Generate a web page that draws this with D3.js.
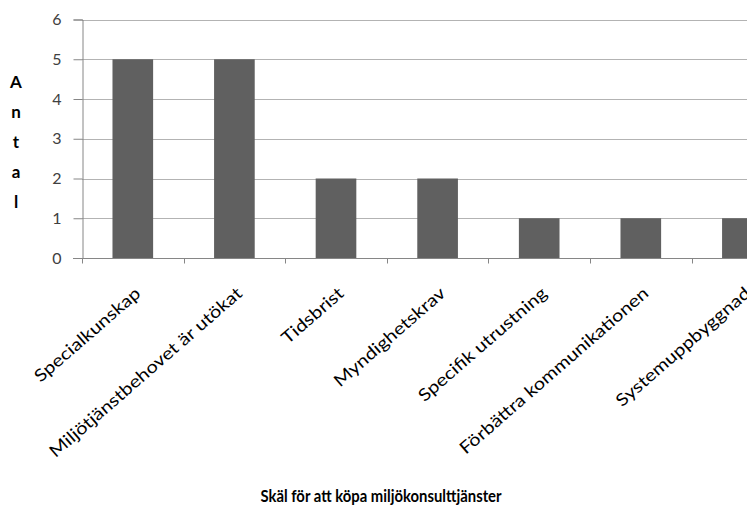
<!DOCTYPE html>
<html>
<head>
<meta charset="utf-8">
<script src="https://cdn.jsdelivr.net/npm/d3@7"></script>
<style>
  html, body { margin: 0; padding: 0; background: #fff; }
  svg { display: block; font-family: Lato, "Open Sans", sans-serif; }
</style>
</head>
<body>
<svg id="chart" width="747" height="506"></svg>
<script>
// Reasons for buying environmental consulting services
const categories = [
  "Specialkunskap",
  "Miljötjänstbehovet är utökat",
  "Tidsbrist",
  "Myndighetskrav",
  "Specifik utrustning",
  "Förbättra kommunikationen",
  "Systemuppbyggnad"
];
const counts = [5, 5, 2, 2, 1, 1, 1];
const yTicks = [0, 1, 2, 3, 4, 5, 6];
const yTitle = "Antal";
const xTitle = "Skäl för att köpa miljökonsulttjänster";

const svg = d3.select("#chart");
const plotLeft = 82, plotTop = 19.5, plotBottom = 258, bandW = 101.6;
const plotRight = plotLeft + bandW * categories.length;

const x = d3.scaleBand().domain(categories).range([plotLeft, plotRight]).paddingInner(0).paddingOuter(0);
const y = d3.scaleLinear().domain([0, 6]).range([plotBottom, plotTop]);

// horizontal gridlines
svg.append("g")
  .selectAll("line")
  .data(yTicks.filter(d => d > 0))
  .join("line")
  .attr("x1", plotLeft).attr("x2", plotRight)
  .attr("y1", d => Math.round(y(d)) + 0.5).attr("y2", d => Math.round(y(d)) + 0.5)
  .attr("stroke", "#b3b3b3").attr("stroke-width", 1);

// bars: 40% of each category slot, centred
svg.append("g")
  .selectAll("rect")
  .data(categories.map((c, i) => ({ c, v: counts[i] })))
  .join("rect")
  .attr("x", d => x(d.c) + x.bandwidth() * 0.3)
  .attr("width", x.bandwidth() * 0.4)
  .attr("y", d => y(d.v))
  .attr("height", d => y(0) - y(d.v))
  .attr("fill", "#606060");

// y axis
const yAxis = svg.append("g")
  .attr("transform", `translate(${plotLeft + 0.5},0)`)
  .call(d3.axisLeft(y).tickValues(yTicks).tickSize(9).tickPadding(12).tickFormat(d3.format("d")));
yAxis.select(".domain").attr("stroke", "#868686");
yAxis.selectAll(".tick line").attr("stroke", "#868686");
yAxis.selectAll(".tick text")
  .attr("fill", "#404040")
  .style("font-size", "16px")
  .style("font-family", "Lato, sans-serif");

// x axis with tick marks at slot boundaries
const xAxis = svg.append("g").attr("transform", `translate(0,${Math.round(plotBottom) + 0.5})`);
xAxis.append("line")
  .attr("x1", plotLeft - 9).attr("x2", plotRight)
  .attr("stroke", "#868686");
xAxis.selectAll("line.bound")
  .data(categories.map((c, i) => i))
  .join("line")
  .attr("class", "bound")
  .attr("x1", i => Math.round(x(categories[i])) + 0.5)
  .attr("x2", i => Math.round(x(categories[i])) + 0.5)
  .attr("y1", 0).attr("y2", 5)
  .attr("stroke", "#868686");

// rotated category labels
svg.append("g")
  .selectAll("text")
  .data(categories)
  .join("text")
  .attr("transform", d => `translate(${x(d) + x.bandwidth() / 2 + 9},${plotBottom + 37}) rotate(-41) scale(1.18,1)`)
  .attr("text-anchor", "end")
  .attr("fill", "#000")
  .style("font-size", "17px")
  .text(d => d);

// vertical stacked y title
svg.append("text")
  .attr("text-anchor", "middle")
  .style("font-size", "17px")
  .style("font-weight", "bold")
  .selectAll("tspan")
  .data(yTitle.split(""))
  .join("tspan")
  .attr("x", 16)
  .attr("y", (d, i) => 88 + i * 30)
  .text(d => d);

// x title
svg.append("text")
  .attr("transform", "translate(381,502) scale(0.9,1)")
  .attr("text-anchor", "middle")
  .style("font-size", "16.5px")
  .style("font-weight", "bold")
  .text(xTitle);
</script>
</body>
</html>
